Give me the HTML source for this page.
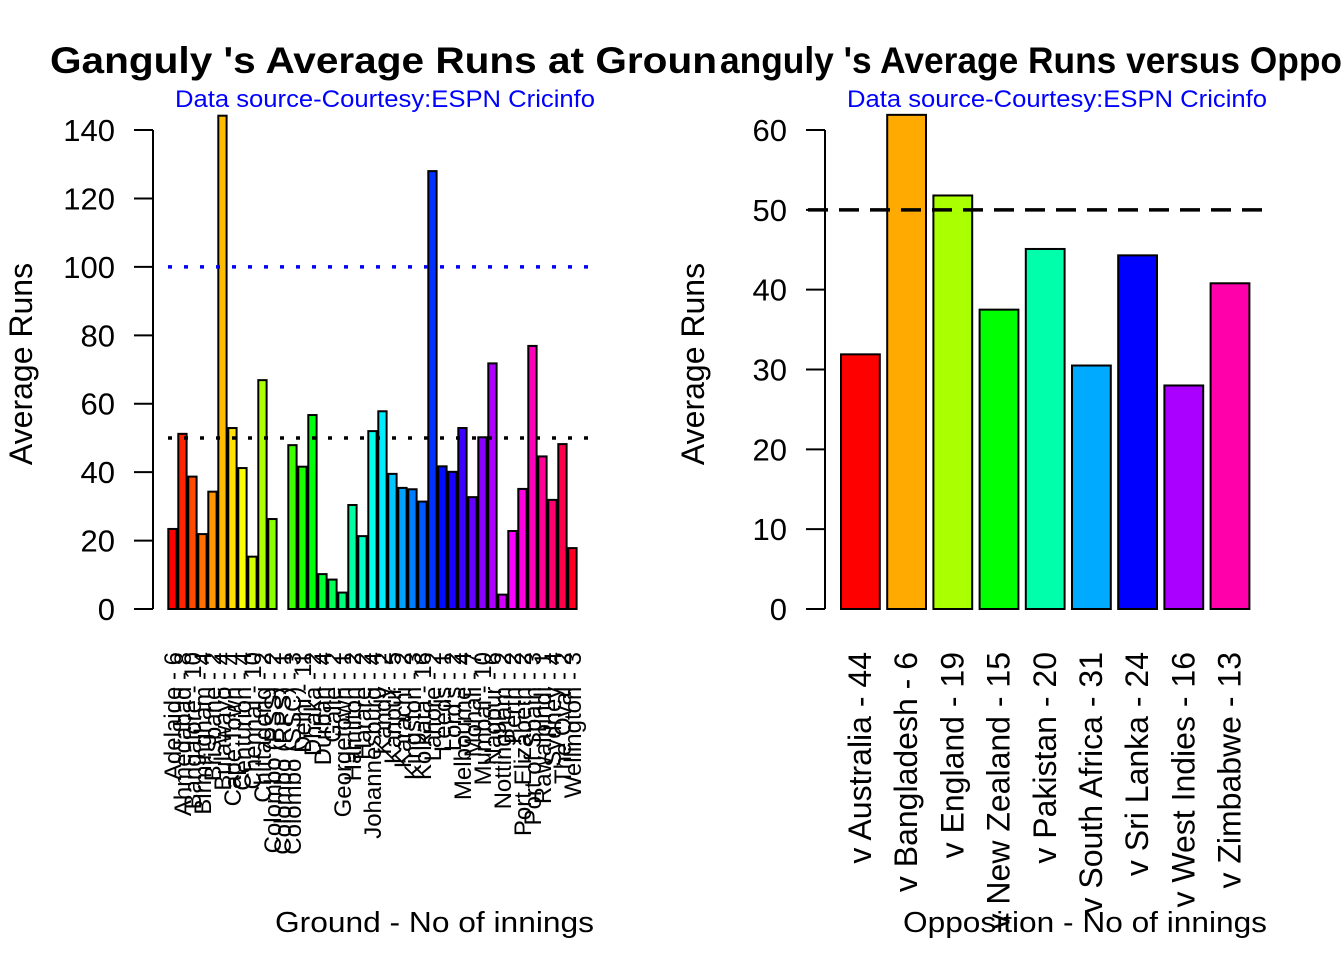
<!DOCTYPE html>
<html><head><meta charset="utf-8"><style>body{margin:0;background:#fff}svg{display:block}text{font-family:"Liberation Sans",Arial,sans-serif}</style></head>
<body>
<svg id="s" width="1344" height="960" viewBox="0 0 1344 960" xmlns="http://www.w3.org/2000/svg">
<rect width="1344" height="960" fill="#fff"/>
<text x="50" y="73" font-size="37" font-weight="bold" textLength="667" lengthAdjust="spacingAndGlyphs">Ganguly 's Average Runs at Groun</text>
<text x="720" y="73" font-size="37" font-weight="bold" textLength="622" lengthAdjust="spacingAndGlyphs">anguly 's Average Runs versus Oppo</text>
<text x="175" y="107" font-size="24" fill="#0000ff" textLength="420" lengthAdjust="spacingAndGlyphs">Data source-Courtesy:ESPN Cricinfo</text>
<text x="847" y="107" font-size="24" fill="#0000ff" textLength="420" lengthAdjust="spacingAndGlyphs">Data source-Courtesy:ESPN Cricinfo</text>
<g id="left"></g>
<g id="right"></g>
<text transform="translate(32,364) rotate(-90)" font-size="32" text-anchor="middle">Average Runs</text>
<text transform="translate(704,364) rotate(-90)" font-size="32" text-anchor="middle">Average Runs</text>
<text x="275" y="932" font-size="29" textLength="319" lengthAdjust="spacingAndGlyphs">Ground - No of innings</text>
<text x="903" y="932" font-size="29" textLength="364" lengthAdjust="spacingAndGlyphs">Opposition - No of innings</text>
</svg>
<script>
const NS="http://www.w3.org/2000/svg";
function el(p,t,a,txt){const e=document.createElementNS(NS,t);for(const k in a)e.setAttribute(k,a[k]);if(txt!==undefined)e.textContent=txt;p.appendChild(e);return e;}
function hsv(h){const i=Math.floor(h*6),f=h*6-i,q=1-f;let r,g,b;[r,g,b]=[[1,f,0],[q,1,0],[0,1,f],[0,q,1],[f,0,1],[1,0,q]][i%6];return `rgb(${Math.round(r*255)},${Math.round(g*255)},${Math.round(b*255)})`;}
const L=document.getElementById('left'),R=document.getElementById('right');
const lv=[23.4,51.2,38.7,21.9,34.3,144.2,52.9,41.2,15.3,66.9,26.3,0,47.9,41.6,56.7,10.2,8.6,4.8,30.4,21.3,52.0,57.8,39.5,35.4,35.0,31.4,128.0,41.7,40.1,52.9,32.7,50.2,71.8,4.2,22.8,35.1,76.9,44.6,31.9,48.2,17.8];
const ln=["Adelaide - 6","Ahmedabad - 8","Bangalore - 10","Birmingham - 4","Brisbane - 2","Bulawayo - 4","Cape Town - 4","Centurion - 4","Chennai - 10","Chittagong - 2","Colombo (PSS) - 2","Colombo (RPS) - 1","Colombo (SSC) - 3","Delhi - 11","Dhaka - 2","Durban - 4","Galle - 2","Georgetown - 1","Hamilton - 2","Harare - 2","Johannesburg - 4","Kandy - 2","Kanpur - 5","Karachi - 2","Kingston - 3","Kolkata - 16","Lahore - 2","Leeds - 1","Lord's - 2","Melbourne - 4","Mohali - 7","Mumbai - 10","Nagpur - 6","Nottingham - 2","Perth - 2","Port Elizabeth - 2","Port of Spain - 3","Rawalpindi - 1","Sydney - 4","The Oval - 2","Wellington - 3"];
const ly=v=>609-v*3.421;
lv.forEach((v,i)=>{const x=168.3+10*i;el(L,'rect',{x:x,y:ly(v),width:8.3,height:v*3.421,fill:hsv(i/41),stroke:'#000','stroke-width':2});
el(L,'text',{transform:`translate(${x+12.5},652) rotate(-90)`,'font-size':24,'text-anchor':'end'},ln[i]);});
el(L,'line',{x1:168,x2:592,y1:ly(100),y2:ly(100),stroke:'#0000ff','stroke-width':3.5,'stroke-dasharray':'4 12'});
el(L,'line',{x1:168,x2:592,y1:ly(50),y2:ly(50),stroke:'#000','stroke-width':3.5,'stroke-dasharray':'4 12'});
el(L,'line',{x1:153,x2:153,y1:ly(140),y2:609,stroke:'#000','stroke-width':2});
for(let v=0;v<=140;v+=20){el(L,'line',{x1:134,x2:153,y1:ly(v),y2:ly(v),stroke:'#000','stroke-width':2});el(L,'text',{x:115,y:ly(v)+11,'font-size':31,'text-anchor':'end'},String(v));}
const rv=[31.9,61.9,51.8,37.5,45.1,30.5,44.3,28.0,40.8];
const rn=["v Australia - 44","v Bangladesh - 6","v England - 19","v New Zealand - 15","v Pakistan - 20","v South Africa - 31","v Sri Lanka - 24","v West Indies - 16","v Zimbabwe - 13"];
const ry=v=>609-v*7.983;
rv.forEach((v,i)=>{const x=841+46.2*i;el(R,'rect',{x:x,y:ry(v),width:38.8,height:v*7.983,fill:hsv(i/9),stroke:'#000','stroke-width':2});
el(R,'text',{transform:`translate(${x+30},652) rotate(-90)`,'font-size':32,'text-anchor':'end'},rn[i]);});
el(R,'line',{x1:808,x2:1262,y1:ry(50),y2:ry(50),stroke:'#000','stroke-width':3.5,'stroke-dasharray':'20 11'});
el(R,'line',{x1:825,x2:825,y1:ry(60),y2:609,stroke:'#000','stroke-width':2});
for(let v=0;v<=60;v+=10){el(R,'line',{x1:806,x2:825,y1:ry(v),y2:ry(v),stroke:'#000','stroke-width':2});el(R,'text',{x:787,y:ry(v)+11,'font-size':31,'text-anchor':'end'},String(v));}
</script>
</body></html>
